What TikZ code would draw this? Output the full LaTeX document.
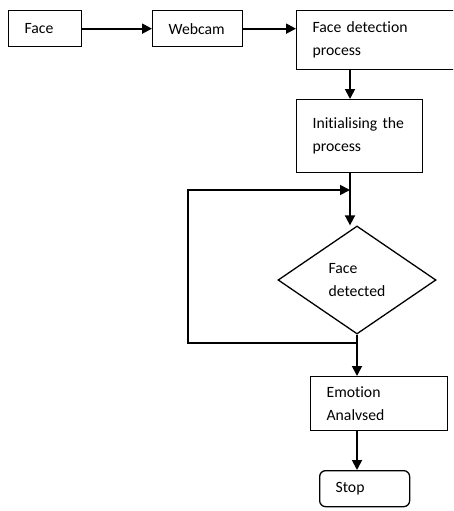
\documentclass[tikz,border=0pt]{standalone}
\usepackage{fontspec}
\setmainfont[Ligatures=NoCommon]{Carlito}
\usetikzlibrary{arrows.meta,positioning,shapes.geometric}
\tikzset{
  stepbox/.style={draw,line width=1.3pt,anchor=north west,inner xsep=16pt,
                  inner ysep=0pt,align=left,
                  font=\fontsize{15.7}{23}\selectfont},
  decision/.style={draw,diamond,line width=1.3pt,inner sep=0pt,align=left,
                   minimum width=158pt,minimum height=108pt,
                   font=\fontsize{15.7}{23}\selectfont},
  flow/.style={-{Triangle[length=10pt,width=10pt]},line width=1.8pt},
}

\begin{document}
\begin{tikzpicture}[x=1pt,y=-1pt]
  \useasboundingbox (0,0) rectangle (453,511);
  \clip (0,0) rectangle (453,511);
  \node[stepbox,minimum width=73pt,minimum height=36pt,text width=41pt]
    (face) at (8,10) {Face};
  \node[stepbox,minimum width=90pt,minimum height=36pt,text width=58pt]
    (webcam) at (152,10) {Webcam};
  \node[stepbox,minimum width=170pt,minimum height=59pt,text width=138pt]
    (detect) at (296,10) {Face detection\\process};
  \node[stepbox,minimum width=126pt,minimum height=73pt,text width=94pt]
    (init) at (296,99) {Initialising the\\process};
  \node[decision] (check) at (357,280) {Face\\detected};
  \node[stepbox,minimum width=137pt,minimum height=54pt,text width=105pt]
    (emotion) at (310,376) {Emotion\\Analvsed};
  \node[stepbox,rounded corners=6pt,minimum width=90pt,minimum height=36pt,
        text width=58pt] (stop) at (319,470) {Stop};
  \coordinate (spine) at (350,0);
  \coordinate (join) at (357,343);
  \coordinate (loop) at (188,190);
  \draw[flow] (face.east) -- (webcam.west);
  \draw[flow] (webcam.east) -- (webcam.east -| detect.west);
  \draw[flow] (detect.south -| spine) -- (init.north -| spine);
  \draw[flow] (init.south -| spine) -- (check.north -| spine);
  \draw[flow] (join) -| (loop) -- (loop -| spine);
  \draw[flow] (check.south) -- (emotion.north -| check.south);
  \draw[flow] (emotion.south -| check.south) -- (stop.north -| check.south);
\end{tikzpicture}
\end{document}
